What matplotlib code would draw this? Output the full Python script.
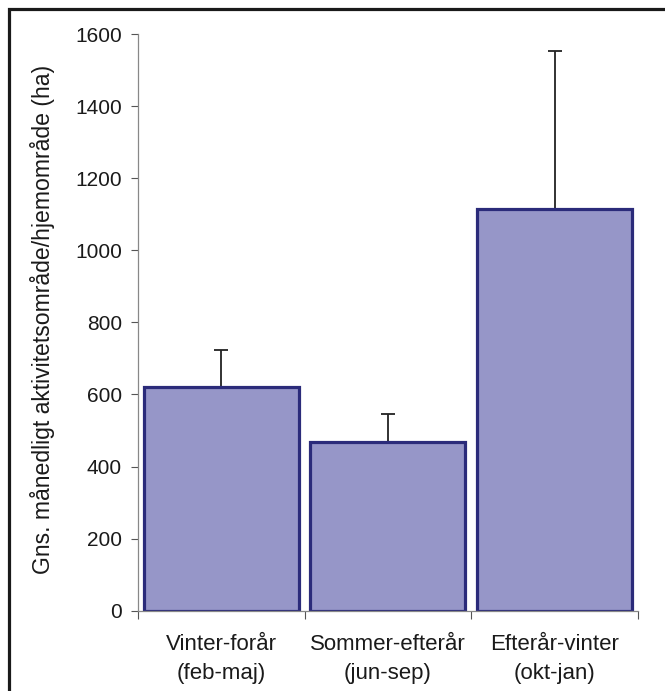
import matplotlib.pyplot as plt
from matplotlib.patches import Rectangle
import numpy as np

plt.rcParams['font.family'] = ['Liberation Sans', 'DejaVu Sans']

categories = ["Vinter-forår\n(feb-maj)", "Sommer-efterår\n(jun-sep)", "Efterår-vinter\n(okt-jan)"]
means = [622, 468, 1115]
errors = [100, 79, 438]
yticks = [0, 200, 400, 600, 800, 1000, 1200, 1400, 1600]

fig = plt.figure(figsize=(6.65, 6.91), dpi=100)
ax = fig.add_axes([138 / 665, 1 - 610.7 / 691, 500 / 665, 576.7 / 691])

ind = np.arange(len(categories))
ax.bar(ind, means, 0.93, color='#9696C8', edgecolor='#2B2B7A', linewidth=2.3, zorder=2)
ax.errorbar(ind, means, yerr=[[0] * len(errors), errors], fmt='none',
            ecolor='#222222', elinewidth=1.3, capsize=4.7, capthick=1.3, zorder=1)

ax.set_xlim(-0.5, len(categories) - 0.5)
ax.set_ylim(0, 1600)
ax.set_yticks(yticks)
ax.set_yticklabels([str(v) for v in yticks], fontsize=15, color='#1a1a1a')
ax.tick_params(axis='y', direction='out', length=5, width=0.8, color='#555555', pad=6.5)

# category boundaries as major ticks, labels on minor ticks
ax.set_xticks(np.arange(-0.5, len(categories), 1.0))
ax.set_xticklabels([])
ax.set_xticks(ind, minor=True)
ax.set_xticklabels(categories, minor=True, fontsize=16, color='#1a1a1a', linespacing=1.45)
ax.tick_params(axis='x', which='major', direction='out', length=5.5, width=0.8, color='#555555')
ax.tick_params(axis='x', which='minor', length=0, pad=17)

for s in ['top', 'right']:
    ax.spines[s].set_visible(False)
for s in ['left', 'bottom']:
    ax.spines[s].set_color('#888888')
    ax.spines[s].set_linewidth(0.9)

ax.set_ylabel("Gns. månedligt aktivitetsområde/hjemområde (ha)", fontsize=16.6, color='#1a1a1a')
ax.yaxis.set_label_coords(-0.165, 0.505)

# frame round the figure (only top and left edge visible)
fig.patches.append(Rectangle((8.5 / 665, -0.05), 1.2, 1 - 9.5 / 691 + 0.05, transform=fig.transFigure,
                             fill=False, edgecolor='#1a1a1a', linewidth=2.3))

fig.savefig('out.png', dpi=100)
